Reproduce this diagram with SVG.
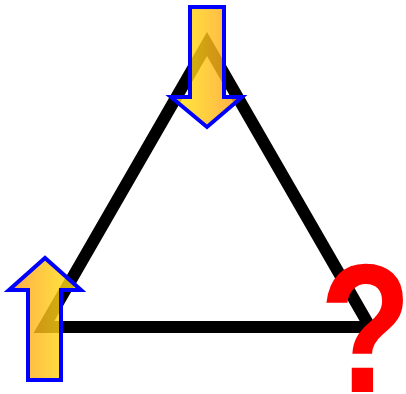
<svg xmlns="http://www.w3.org/2000/svg" width="406" height="394" viewBox="0 0 406 394">
<defs>
<linearGradient id="gDown" x1="0" y1="0" x2="1" y2="0">
<stop offset="0" stop-color="#FFEA10"/>
<stop offset="1" stop-color="#FF9A20"/>
</linearGradient>
<linearGradient id="gUp" x1="0" y1="0" x2="1" y2="0">
<stop offset="0" stop-color="#FF9A20"/>
<stop offset="1" stop-color="#FFEA10"/>
</linearGradient>
</defs>
<style>
.tri{fill:none;stroke:#000;stroke-width:12;stroke-linejoin:miter;stroke-miterlimit:10}
.arrow{stroke:#0000FF;stroke-width:4;fill-opacity:0.82;stroke-linejoin:miter}
.q{font-family:"Liberation Sans",Arial,sans-serif;font-weight:bold;fill:#FF0000}
</style>
<g id="connectors">
<path class="tri" d="M207,44 L370,327 L44,327 Z"/>
</g>
<g id="arrow-top">
<path class="arrow" fill="url(#gDown)" d="M190,7 L224,7 L224,97 L242,97 L207,127 L171,97 L190,97 Z"/>
</g>
<g id="arrow-left">
<path class="arrow" fill="url(#gUp)" d="M28,380 L61,380 L61,290 L81,290 L45,258 L9,290 L28,290 Z"/>
</g>
<g id="question">
<text class="q" transform="translate(331,392) scale(0.82,1)" x="-14" y="0" font-size="184">?</text>
</g>
</svg>
